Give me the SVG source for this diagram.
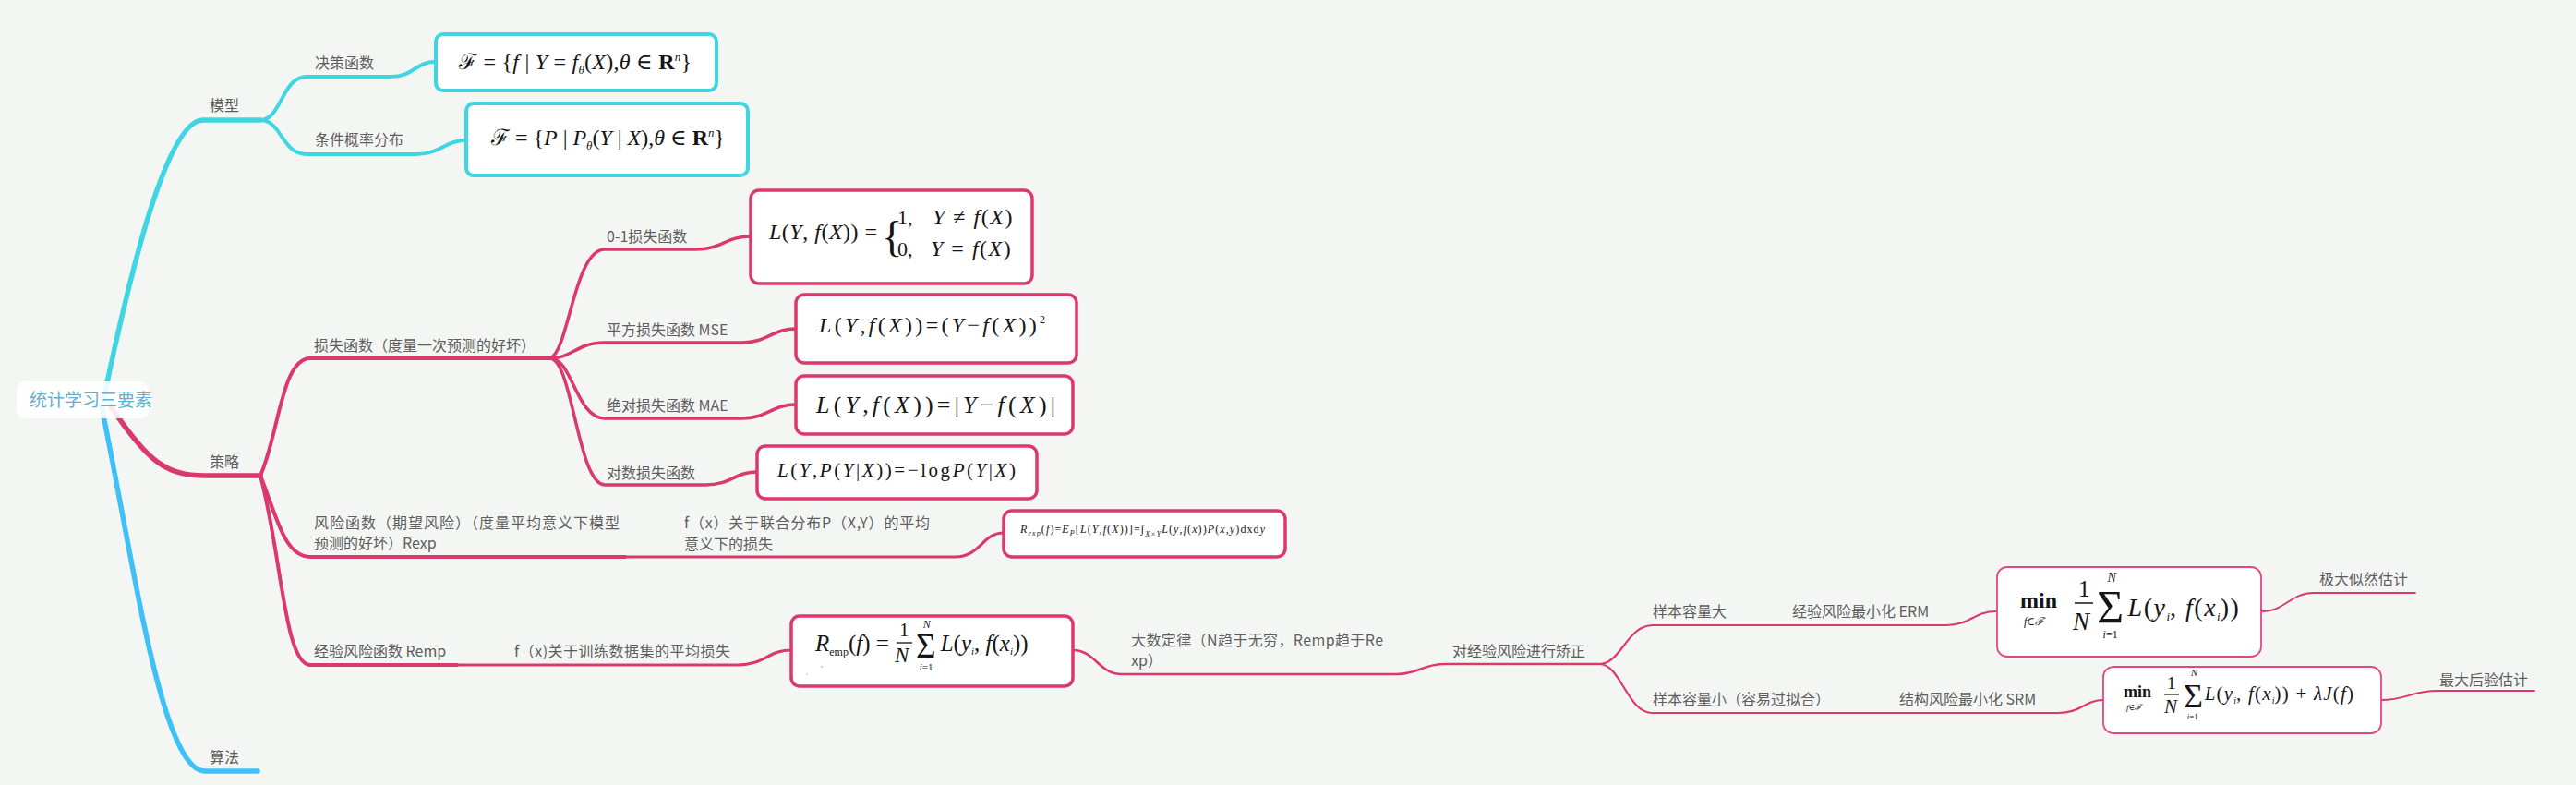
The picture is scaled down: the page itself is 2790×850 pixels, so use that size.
<svg xmlns="http://www.w3.org/2000/svg" width="2790" height="850" viewBox="0 0 2790 850">
<style>
.lbl{font-family:"Noto Sans CJK SC","Noto Sans",sans-serif;font-size:16px;fill:#5e5e5e}
.root{font-family:"Noto Sans CJK SC","Noto Sans",sans-serif;font-size:19px;fill:#62b0ca}
.m{font-family:"Liberation Serif","DejaVu Serif",serif;font-style:italic;fill:#151515}
.u{font-style:normal}
.b{font-style:normal;font-weight:bold}
.c{fill:none;stroke-linecap:round;stroke-linejoin:round}
.cy{stroke:#3fd6e2}
.pk{stroke:#da386e}
.bl{stroke:#3fc1f8}
.boxc{fill:#fff;stroke:#3fd6e2;stroke-width:4}
.boxp{fill:#fff;stroke:#da386e;stroke-width:3.5}
.boxt{fill:#fff;stroke:#e2487f;stroke-width:1.8}
.bar{stroke:#151515}
</style>
<rect width="2790" height="850" fill="#f4f6f4"/>
<g id="connectors">
  <path class="c cy" stroke-width="5.5" d="M112 433 C140 300 180 130 220 130 L282 130"/>
  <path class="c pk" stroke-width="5.5" d="M120 440 C160 500 180 515 222 515 L282 515"/>
  <path class="c bl" stroke-width="5.5" d="M110 440 C145 610 175 835 222 835 L279 835"/>
  <path class="c cy" stroke-width="4" d="M282 130 C305 130 305 83 332 83 L423 83 C448 83 450 67 471 67"/>
  <path class="c cy" stroke-width="4" d="M282 130 C305 130 305 167 332 167 L450 167 C478 167 482 152 504 152"/>
  <path class="c pk" stroke-width="4" d="M282 515 C302 470 305 388 336 388 L596 388"/>
  <path class="c pk" stroke-width="4" d="M282 515 C300 560 308 603 336 603 L677 603"/>
  <path class="c pk" stroke-width="4" d="M282 515 C305 600 308 720 336 720 L495 720"/>
  <path class="c pk" stroke-width="3.5" d="M596 388 C616 380 622 270 655 270 L753 270 C782 270 786 256 813 256"/>
  <path class="c pk" stroke-width="3.5" d="M596 388 C620 388 624 371 655 371 L803 371 C832 371 836 356 862 356"/>
  <path class="c pk" stroke-width="3.5" d="M596 388 C620 388 624 453 655 453 L803 453 C832 453 836 438 862 438"/>
  <path class="c pk" stroke-width="3.5" d="M596 388 C620 390 626 525 655 525 L764 525 C792 525 796 511 820 511"/>
  <path class="c pk" stroke-width="3.2" d="M677 603 L1034 603 C1062 603 1064 577 1087 577"/>
  <path class="c pk" stroke-width="3.2" d="M495 720 L799 720 C828 720 832 704 857 704"/>
  <path class="c pk" stroke-width="2.6" d="M1162 704 C1186 704 1190 730 1215 730 L1512 730 C1537 730 1540 719 1565 719 L1732 719"/>
  <path class="c pk" stroke-width="2.2" d="M1732 719 C1756 719 1762 677 1790 677 L2108 677 C2134 677 2138 662 2162 662"/>
  <path class="c pk" stroke-width="2.2" d="M1732 719 C1756 719 1762 772 1790 772 L2229 772 C2254 772 2258 758 2278 758"/>
  <path class="c pk" stroke-width="1.8" d="M2449 662 C2476 662 2480 642 2506 642 L2616 642"/>
  <path class="c pk" stroke-width="1.8" d="M2579 758 C2606 758 2612 748 2640 748 L2745 748"/>
</g>
<g id="root">
  <rect x="18" y="413" width="143" height="40" rx="9" fill="#ffffff" fill-opacity="0.88"/>
  <text class="root" x="32" y="440">统计学习三要素</text>
</g>
<g id="n-model"><text class="lbl" x="227" y="120">模型</text></g>
<g id="n-strategy"><text class="lbl" x="227" y="506">策略</text></g>
<g id="n-algo"><text class="lbl" x="227" y="826">算法</text></g>
<g id="n-decision"><text class="lbl" x="341" y="74">决策函数</text></g>
<g id="n-condprob"><text class="lbl" x="341" y="157">条件概率分布</text></g>
<g id="f-decision">
  <rect class="boxc" x="472" y="37" width="304" height="61" rx="8"/>
  <text class="m" x="497" y="75" font-size="24" textLength="252" lengthAdjust="spacing"><tspan class="u">ℱ = {</tspan>f<tspan class="u"> | </tspan>Y<tspan class="u"> = </tspan>f<tspan dy="5" font-size="13">θ</tspan><tspan dy="-5" class="u">(</tspan>X<tspan class="u">),</tspan>θ<tspan class="u"> ∈ </tspan><tspan class="b">R</tspan><tspan dy="-9" font-size="13">n</tspan><tspan dy="9" class="u">}</tspan></text>
</g>
<g id="f-condprob">
  <rect class="boxc" x="505" y="112" width="305" height="78" rx="8"/>
  <text class="m" x="532" y="157" font-size="24" textLength="253" lengthAdjust="spacing"><tspan class="u">ℱ = {</tspan>P<tspan class="u"> | </tspan>P<tspan dy="5" font-size="13">θ</tspan><tspan dy="-5" class="u">(</tspan>Y<tspan class="u"> | </tspan>X<tspan class="u">),</tspan>θ<tspan class="u"> ∈ </tspan><tspan class="b">R</tspan><tspan dy="-9" font-size="13">n</tspan><tspan dy="9" class="u">}</tspan></text>
</g>
<g id="n-loss"><text class="lbl" x="340" y="380">损失函数（度量一次预测的好坏）</text></g>
<g id="n-01"><text class="lbl" x="657" y="262">0-1损失函数</text></g>
<g id="n-mse"><text class="lbl" x="657" y="363">平方损失函数 MSE</text></g>
<g id="n-mae"><text class="lbl" x="657" y="445">绝对损失函数 MAE</text></g>
<g id="n-log"><text class="lbl" x="657" y="518">对数损失函数</text></g>
<g id="f-01">
  <rect class="boxp" x="813" y="206" width="305" height="101" rx="9"/>
  <text class="m" font-size="24"><tspan x="833" y="259" letter-spacing="0.5">L</tspan><tspan class="u" letter-spacing="0.5">(</tspan><tspan letter-spacing="0.5">Y</tspan><tspan class="u" letter-spacing="0.5">, </tspan><tspan letter-spacing="0.5">f</tspan><tspan class="u" letter-spacing="0.5">(</tspan><tspan letter-spacing="0.5">X</tspan><tspan class="u" letter-spacing="0.5">)) =</tspan><tspan x="955" y="272" class="u" font-size="46">{</tspan><tspan x="972" y="243" class="u" font-size="22">1,</tspan><tspan x="1010" y="243" letter-spacing="1.5">Y</tspan><tspan class="u" letter-spacing="1.5"> ≠ </tspan><tspan letter-spacing="1.5">f</tspan><tspan class="u" letter-spacing="1.5">(</tspan><tspan letter-spacing="1.5">X</tspan><tspan class="u">)</tspan><tspan x="972" y="277" class="u" font-size="22">0,</tspan><tspan x="1008" y="277" letter-spacing="1.5">Y</tspan><tspan class="u" letter-spacing="1.5"> = </tspan><tspan letter-spacing="1.5">f</tspan><tspan class="u" letter-spacing="1.5">(</tspan><tspan letter-spacing="1.5">X</tspan><tspan class="u">)</tspan></text>
</g>
<g id="f-mse">
  <rect class="boxp" x="862" y="319" width="304" height="74" rx="9"/>
  <text class="m" x="887" y="360" font-size="24" textLength="245" lengthAdjust="spacing">L<tspan class="u">(</tspan>Y<tspan class="u">,</tspan>f<tspan class="u">(</tspan>X<tspan class="u">))=(</tspan>Y<tspan class="u">−</tspan>f<tspan class="u">(</tspan>X<tspan class="u">))</tspan><tspan class="u" dy="-10" font-size="12">2</tspan></text>
</g>
<g id="f-mae">
  <rect class="boxp" x="862" y="407" width="300" height="63" rx="9"/>
  <text class="m" x="884" y="447" font-size="26" textLength="259" lengthAdjust="spacing">L<tspan class="u">(</tspan>Y<tspan class="u">,</tspan>f<tspan class="u">(</tspan>X<tspan class="u">))=|</tspan>Y<tspan class="u">−</tspan>f<tspan class="u">(</tspan>X<tspan class="u">)|</tspan></text>
</g>
<g id="f-log">
  <rect class="boxp" x="820" y="483" width="303" height="57" rx="9"/>
  <text class="m" x="842" y="516" font-size="21" textLength="258" lengthAdjust="spacing">L<tspan class="u">(</tspan>Y<tspan class="u">,</tspan>P<tspan class="u">(</tspan>Y<tspan class="u">|</tspan>X<tspan class="u">))=−log</tspan>P<tspan class="u">(</tspan>Y<tspan class="u">|</tspan>X<tspan class="u">)</tspan></text>
</g>
<g id="n-risk">
  <text class="lbl" x="340" y="572" textLength="331" lengthAdjust="spacing">风险函数（期望风险）（度量平均意义下模型</text>
  <text class="lbl" x="340" y="594">预测的好坏）Rexp</text>
</g>
<g id="n-risk-desc">
  <text class="lbl" x="741" y="572" textLength="266" lengthAdjust="spacing">f（x）关于联合分布P（X,Y）的平均</text>
  <text class="lbl" x="741" y="595">意义下的损失</text>
</g>
<g id="f-risk">
  <rect class="boxp" x="1087" y="553" width="305" height="50" rx="9"/>
  <text class="m" x="1105" y="577" font-size="12" textLength="265" lengthAdjust="spacing">R<tspan dy="3" font-size="8">exp</tspan><tspan dy="-3" class="u">(</tspan>f<tspan class="u">)=</tspan>E<tspan dy="3" font-size="8">P</tspan><tspan dy="-3" class="u">[</tspan>L<tspan class="u">(</tspan>Y<tspan class="u">,</tspan>f<tspan class="u">(</tspan>X<tspan class="u">))]=∫</tspan><tspan dy="4" font-size="8">X×Y</tspan><tspan dy="-4">L</tspan><tspan class="u">(</tspan>y<tspan class="u">,</tspan>f<tspan class="u">(</tspan>x<tspan class="u">))</tspan>P<tspan class="u">(</tspan>x<tspan class="u">,</tspan>y<tspan class="u">)dxd</tspan>y</text>
</g>
<g id="n-emp"><text class="lbl" x="340" y="711">经验风险函数 Remp</text></g>
<g id="n-emp-desc"><text class="lbl" x="557" y="711" textLength="234" lengthAdjust="spacing">f（x)关于训练数据集的平均损失</text></g>
<g id="f-emp">
  <rect class="boxp" x="857" y="667" width="305" height="76" rx="9"/>
  <line class="bar" x1="971" y1="696" x2="988" y2="696" stroke-width="1.3"/>
  <text class="m" font-size="25"><tspan x="883" y="705">R</tspan><tspan dy="5" font-size="12" class="u">emp</tspan><tspan dy="-5" class="u">(</tspan><tspan>f</tspan><tspan class="u">) =</tspan><tspan x="974" y="689" class="u" font-size="21">1</tspan><tspan x="969" y="717" font-size="23">N</tspan><tspan x="992" y="712" class="u" font-size="37">Σ</tspan><tspan dx="-13.9" dy="-32" font-size="12">N</tspan><tspan dx="-12" dy="46" font-size="11">i</tspan><tspan class="u" font-size="11">=1</tspan><tspan dx="8.2" dy="-21">L</tspan><tspan class="u">(</tspan><tspan>y</tspan><tspan dy="4" font-size="11">i</tspan><tspan dy="-4" class="u">, </tspan><tspan>f</tspan><tspan class="u">(</tspan><tspan>x</tspan><tspan dy="4" font-size="11">i</tspan><tspan dy="-4" class="u">))</tspan></text>
  <circle cx="890" cy="722" r="0.8" fill="#888"/>
  <circle cx="874" cy="730" r="0.7" fill="#aaa"/>
</g>
<g id="n-lln">
  <text class="lbl" x="1225" y="699" textLength="273" lengthAdjust="spacing">大数定律（N趋于无穷，Remp趋于Re</text>
  <text class="lbl" x="1225" y="721">xp）</text>
</g>
<g id="n-correct"><text class="lbl" x="1573" y="711">对经验风险进行矫正</text></g>
<g id="n-large"><text class="lbl" x="1790" y="668">样本容量大</text></g>
<g id="n-erm"><text class="lbl" x="1941" y="668">经验风险最小化 ERM</text></g>
<g id="n-small"><text class="lbl" x="1790" y="763">样本容量小（容易过拟合）</text></g>
<g id="n-srm"><text class="lbl" x="2057" y="763">结构风险最小化 SRM</text></g>
<g id="f-erm">
  <rect class="boxt" x="2163" y="614" width="286" height="97" rx="11"/>
  <line class="bar" x1="2247" y1="653" x2="2267" y2="653" stroke-width="1.5"/>
  <text class="m" font-size="28"><tspan x="2188" y="658" class="b" font-size="24">min</tspan><tspan x="2192" y="677" font-size="12">f</tspan><tspan class="u" font-size="12">∈</tspan><tspan font-size="12">ℱ</tspan><tspan x="2251" y="646" class="u" font-size="25">1</tspan><tspan x="2245" y="682" font-size="27">N</tspan><tspan x="2271" y="674" class="u" font-size="50">Σ</tspan><tspan dx="-17.6" dy="-44" font-size="14">N</tspan><tspan dx="-14.3" dy="61" font-size="12">i</tspan><tspan class="u" font-size="12">=1</tspan><tspan dx="10.9" dy="-24" letter-spacing="1.5">L</tspan><tspan class="u" letter-spacing="1.5">(</tspan><tspan letter-spacing="1.5">y</tspan><tspan dy="5" font-size="13">i</tspan><tspan dy="-5" class="u" letter-spacing="1.5">, </tspan><tspan letter-spacing="1.5">f</tspan><tspan class="u" letter-spacing="1.5">(</tspan><tspan letter-spacing="1.5">x</tspan><tspan dy="5" font-size="13">i</tspan><tspan dy="-5" class="u" letter-spacing="1.5">))</tspan></text>
</g>
<g id="f-srm">
  <rect class="boxt" x="2278" y="722" width="301" height="72" rx="11"/>
  <line class="bar" x1="2344" y1="752" x2="2360" y2="752" stroke-width="1.2"/>
  <text class="m" font-size="21"><tspan x="2300" y="755" class="b" font-size="18">min</tspan><tspan x="2303" y="769" font-size="9">f</tspan><tspan class="u" font-size="9">∈</tspan><tspan font-size="9">ℱ</tspan><tspan x="2347" y="746" class="u" font-size="19">1</tspan><tspan x="2344" y="772" font-size="21">N</tspan><tspan x="2365" y="766" class="u" font-size="36">Σ</tspan><tspan dx="-13.3" dy="-34" font-size="11">N</tspan><tspan dx="-11.3" dy="47" font-size="9">i</tspan><tspan class="u" font-size="9">=1</tspan><tspan dx="6.9" dy="-21" letter-spacing="1.2">L</tspan><tspan class="u" letter-spacing="1.2">(</tspan><tspan letter-spacing="1.2">y</tspan><tspan dy="4" font-size="10">i</tspan><tspan dy="-4" class="u" letter-spacing="1.2">, </tspan><tspan letter-spacing="1.2">f</tspan><tspan class="u" letter-spacing="1.2">(</tspan><tspan letter-spacing="1.2">x</tspan><tspan dy="4" font-size="10">i</tspan><tspan dy="-4" class="u" letter-spacing="1.2">)) + </tspan><tspan letter-spacing="1.2">λJ</tspan><tspan class="u" letter-spacing="1.2">(</tspan><tspan letter-spacing="1.2">f</tspan><tspan class="u">)</tspan></text>
</g>
<g id="n-mle"><text class="lbl" x="2512" y="633">极大似然估计</text></g>
<g id="n-map"><text class="lbl" x="2642" y="742">最大后验估计</text></g>
</svg>
